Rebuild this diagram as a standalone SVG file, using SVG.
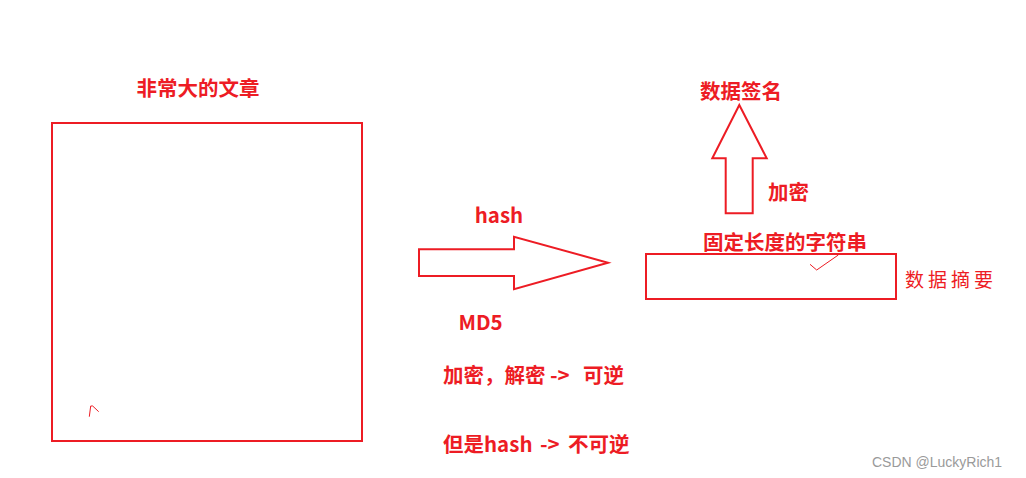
<svg xmlns="http://www.w3.org/2000/svg" width="1026" height="478" viewBox="0 0 1026 478">
<style>
.t{font-family:"Noto Sans CJK SC","Open Sans",sans-serif;font-weight:bold;font-size:20.5px;fill:#ed1c24}
.s{fill:none;stroke:#ed1c24;stroke-width:2}
.thin{fill:none;stroke:#ed1c24;stroke-width:1}
.wm{font-family:"Liberation Sans",sans-serif;font-size:14px;fill:#9a9a9a}
</style>
<rect width="1026" height="478" fill="#ffffff"/>
<g id="article">
<text class="t" x="198" y="96" text-anchor="middle">非常大的文章</text>
<rect class="s" x="52" y="123" width="310" height="318"/>
<polyline class="thin" points="89.3,416.7 90.7,406 92.7,406 98.7,411.7"/>
</g>
<g id="digest">
<text class="t" x="785" y="250" text-anchor="middle">固定长度的字符串</text>
<rect class="s" x="646" y="254" width="250" height="45"/>
<polyline class="thin" points="810,264.3 816.7,270 838.3,255"/>
<text x="905" y="287" style="font-family:'Noto Sans CJK SC',sans-serif;font-size:19px;fill:#ed1c24;letter-spacing:4px">数据摘要</text>
</g>
<g id="signature">
<text class="t" x="741" y="99" text-anchor="middle">数据签名</text>
</g>
<g id="connectors">
<polygon class="s" points="419,249.3 514,249.3 514,236.7 608,262.7 514,289.3 514,276 419,276"/>
<text class="t" x="499" y="223" text-anchor="middle">hash</text>
<text class="t" x="480.5" y="330" text-anchor="middle">MD5</text>
<polygon class="s" points="739.3,105 766.7,158.3 752.7,158.3 752.7,213.3 725.7,213.3 725.7,158.3 712.3,158.3"/>
<text class="t" x="768" y="200">加密</text>
</g>
<g id="notes">
<text class="t" y="383"><tspan x="443">加密，解密</tspan><tspan x="550">-&gt;</tspan><tspan x="583">可逆</tspan></text>
<text class="t" y="452"><tspan x="443">但是hash</tspan><tspan x="540">-&gt;</tspan><tspan x="568">不可逆</tspan></text>
</g>
<text class="wm" x="872" y="467">CSDN @LuckyRich1</text>
</svg>
